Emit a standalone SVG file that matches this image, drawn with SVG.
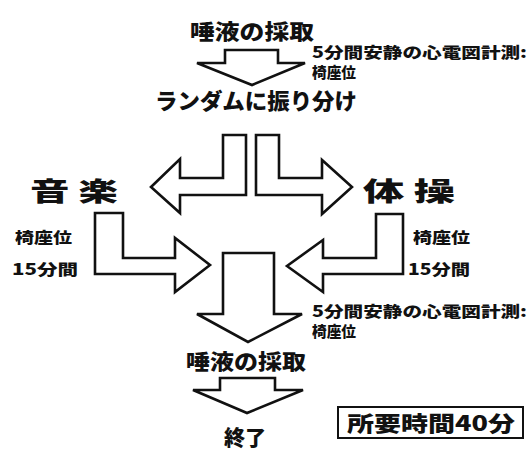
<svg xmlns="http://www.w3.org/2000/svg" width="531" height="451" viewBox="0 0 531 451">
<style>
.t{font-family:"Noto Sans CJK JP","Noto Sans",sans-serif;font-weight:900;fill:#111}
.a{fill:#fff;stroke:#111;stroke-width:2.6;stroke-linejoin:miter}
</style>
<rect width="531" height="451" fill="#fff"/>
<g id="connectors">
<polygon class="a" points="225,50 278,50 278,63 305,63 252,85 197,63 225,63"/>
<polygon class="a" points="246,135 223,135 223,178 180,178 180,159 151,187 180,213 180,195 246,195"/>
<polygon class="a" points="256,135 279,135 279,178 322,178 322,160 352,187 322,214 322,195 256,195"/>
<polygon class="a" points="95,213 123,213 123,258 175,258 175,238 210,265 175,292 175,274 95,274"/>
<polygon class="a" points="403,214 376,214 376,258 323,258 323,240 287,266 323,292 323,274 403,274"/>
<polygon class="a" points="223,253 274,253 274,314 302,314 248,342 197,314 223,314"/>
<polygon class="a" points="220,378 275,378 275,390 303,390 247,413 193,390 220,390"/>
</g>
<g id="saliva1"><text class="t" x="190" y="39" font-size="21" textLength="124" lengthAdjust="spacingAndGlyphs">唾液の採取</text></g>
<g id="ecg1">
<text class="t" x="312" y="58" font-size="15" textLength="215" lengthAdjust="spacingAndGlyphs">5分間安静の心電図計測:</text>
<text class="t" x="312" y="78" font-size="15" textLength="44" lengthAdjust="spacingAndGlyphs">椅座位</text>
</g>
<g id="random"><text class="t" x="155" y="109" font-size="22" textLength="202" lengthAdjust="spacingAndGlyphs">ランダムに振り分け</text></g>
<g id="music">
<text class="t" x="30" y="201" font-size="26" textLength="88" lengthAdjust="spacingAndGlyphs">音 楽</text>
<text class="t" x="15" y="243" font-size="15" textLength="57" lengthAdjust="spacingAndGlyphs">椅座位</text>
<text class="t" x="12" y="275" font-size="15" textLength="66" lengthAdjust="spacingAndGlyphs">15分間</text>
</g>
<g id="exercise">
<text class="t" x="363" y="201" font-size="26" textLength="92" lengthAdjust="spacingAndGlyphs">体 操</text>
<text class="t" x="413" y="243" font-size="15" textLength="57" lengthAdjust="spacingAndGlyphs">椅座位</text>
<text class="t" x="408" y="275" font-size="15" textLength="62" lengthAdjust="spacingAndGlyphs">15分間</text>
</g>
<g id="ecg2">
<text class="t" x="312" y="317" font-size="15" textLength="215" lengthAdjust="spacingAndGlyphs">5分間安静の心電図計測:</text>
<text class="t" x="312" y="337" font-size="15" textLength="44" lengthAdjust="spacingAndGlyphs">椅座位</text>
</g>
<g id="saliva2"><text class="t" x="186" y="369" font-size="21" textLength="120" lengthAdjust="spacingAndGlyphs">唾液の採取</text></g>
<g id="end"><text class="t" x="224" y="445" font-size="21" textLength="42" lengthAdjust="spacingAndGlyphs">終了</text></g>
<g id="time">
<rect x="338" y="407" width="185" height="31" fill="#fff" stroke="#111" stroke-width="2"/>
<text class="t" x="347" y="431" font-size="21" textLength="168" lengthAdjust="spacingAndGlyphs">所要時間40分</text>
</g>
</svg>
